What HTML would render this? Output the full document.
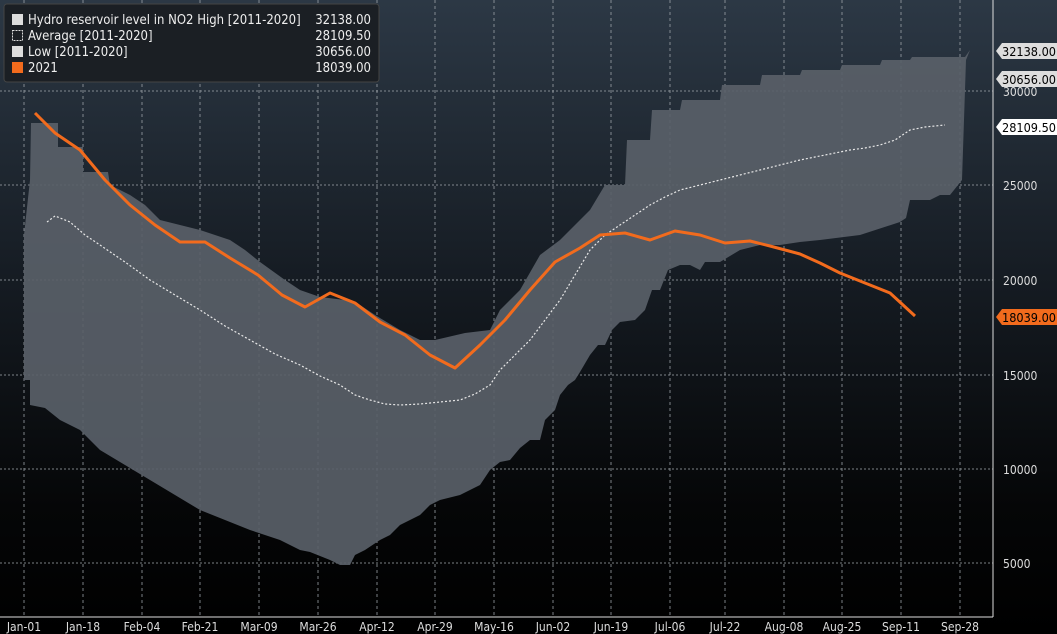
<!DOCTYPE html>
<html><head><style>
body{margin:0;width:1057px;height:634px;overflow:hidden;background:#000;font-family:"DejaVu Sans Condensed","Liberation Sans",sans-serif}
</style></head><body>
<svg width="1057" height="634" xmlns="http://www.w3.org/2000/svg" style="display:block">
<defs><linearGradient id="bg" x1="0" y1="0" x2="0" y2="1">
<stop offset="0" stop-color="#2c3845"/><stop offset="0.45" stop-color="#151b22"/><stop offset="0.8" stop-color="#050607"/><stop offset="1" stop-color="#000"/></linearGradient></defs>
<rect width="1057" height="634" fill="url(#bg)"/>
<g stroke="#9aa0a6" stroke-width="1" stroke-dasharray="3,3" opacity="0.8">
<line x1="24" y1="0" x2="24" y2="617"/><line x1="83" y1="0" x2="83" y2="617"/><line x1="142" y1="0" x2="142" y2="617"/><line x1="200" y1="0" x2="200" y2="617"/><line x1="259" y1="0" x2="259" y2="617"/><line x1="318" y1="0" x2="318" y2="617"/><line x1="377" y1="0" x2="377" y2="617"/><line x1="435" y1="0" x2="435" y2="617"/><line x1="494" y1="0" x2="494" y2="617"/><line x1="553" y1="0" x2="553" y2="617"/><line x1="611" y1="0" x2="611" y2="617"/><line x1="670" y1="0" x2="670" y2="617"/><line x1="725" y1="0" x2="725" y2="617"/><line x1="784" y1="0" x2="784" y2="617"/><line x1="842" y1="0" x2="842" y2="617"/><line x1="901" y1="0" x2="901" y2="617"/><line x1="960" y1="0" x2="960" y2="617"/>
</g>
<g stroke="#9aa0a6" stroke-width="1" stroke-dasharray="2,2" opacity="0.8">
<line x1="0" y1="91" x2="993" y2="91"/><line x1="0" y1="185" x2="993" y2="185"/><line x1="0" y1="280" x2="993" y2="280"/><line x1="0" y1="375" x2="993" y2="375"/><line x1="0" y1="469" x2="993" y2="469"/><line x1="0" y1="563" x2="993" y2="563"/>
</g>
<polygon fill="#596068" opacity="0.92" points="24,235 30,180 31,123 58,123 58,147 83,147 83,172 108,172 110,185 130,195 145,205 160,220 200,230 230,240 245,250 260,262 285,280 300,290 320,297 345,300 360,305 375,315 400,330 420,340 435,340 465,333 490,330 500,310 520,290 540,255 560,240 590,210 605,185 625,185 627,140 650,140 652,110 680,110 682,100 720,100 722,85 760,85 762,75 800,75 802,70 840,70 842,65 880,65 882,60 910,60 912,57 965,57 970,50 966,60 962,180 950,195 940,195 930,200 910,200 906,218 900,222 860,235 820,240 800,242 780,245 760,245 740,250 720,262 705,262 700,270 690,265 680,265 668,270 660,290 652,290 645,310 635,320 620,322 612,330 605,345 598,345 590,355 580,372 575,380 568,385 560,395 555,410 545,420 540,440 530,440 520,448 510,460 500,462 490,470 480,485 470,490 460,495 440,500 430,505 420,515 400,525 390,535 380,540 365,550 355,555 350,565 340,565 330,560 310,552 300,550 280,540 250,530 220,518 200,510 175,495 150,480 125,465 100,450 80,430 60,420 45,408 30,405 30,380 24,380"/>
<polyline fill="none" stroke="#e8e8e8" stroke-width="1.2" stroke-dasharray="2,2" points="47,222 55,216 70,222 85,235 100,245 125,262 150,280 175,295 200,310 225,326 250,340 275,354 300,365 320,376 340,385 355,395 370,400 385,404 400,405 420,404 440,402 460,400 475,394 490,385 500,370 515,355 530,340 545,320 560,300 575,275 590,250 605,235 620,225 635,215 650,205 665,197 680,190 700,185 720,180 740,175 760,170 780,165 800,160 825,155 850,150 865,148 880,145 895,140 910,130 925,127 945,125"/>
<polyline fill="none" stroke="#f26b1d" stroke-width="3" stroke-linejoin="round" points="35,113 55,133 80,150 105,180 130,205 155,225 180,242 205,242 230,258 258,275 282,295 305,307 330,293 355,303 380,322 405,335 430,355 455,368 480,345 505,320 530,290 555,262 580,248 600,235 625,233 650,240 675,231 700,235 725,243 750,241 770,246 800,254 820,263 840,273 865,283 890,293 915,316"/>
<line x1="993" y1="0" x2="993" y2="617" stroke="#ddd"/>
<line x1="0" y1="617" x2="993" y2="617" stroke="#ddd"/>
<g fill="#ddd" font-size="12" font-family="DejaVu Sans Condensed,Liberation Sans Narrow,sans-serif">
<text x="1003" y="96">30000</text><text x="1003" y="190">25000</text><text x="1003" y="285">20000</text><text x="1003" y="380">15000</text><text x="1003" y="474">10000</text><text x="1003" y="568">5000</text>
<g text-anchor="middle"><text x="24" y="631">Jan-01</text><text x="83" y="631">Jan-18</text><text x="142" y="631">Feb-04</text><text x="200" y="631">Feb-21</text><text x="259" y="631">Mar-09</text><text x="318" y="631">Mar-26</text><text x="377" y="631">Apr-12</text><text x="435" y="631">Apr-29</text><text x="494" y="631">May-16</text><text x="553" y="631">Jun-02</text><text x="611" y="631">Jun-19</text><text x="670" y="631">Jul-06</text><text x="725" y="631">Jul-22</text><text x="784" y="631">Aug-08</text><text x="842" y="631">Aug-25</text><text x="901" y="631">Sep-11</text><text x="960" y="631">Sep-28</text></g>
</g>
<g font-size="12" font-family="DejaVu Sans Condensed,Liberation Sans,sans-serif">
<polygon points="996,51 1002,43 1057,43 1057,59 1002,59" fill="#ddd"/><text x="1002" y="56" fill="#000" textLength="54" lengthAdjust="spacingAndGlyphs">32138.00</text>
<polygon points="996,79 1002,71 1057,71 1057,87 1002,87" fill="#ddd"/><text x="1002" y="84" fill="#000" textLength="54" lengthAdjust="spacingAndGlyphs">30656.00</text>
<polygon points="996,127 1002,119 1057,119 1057,135 1002,135" fill="#fff"/><text x="1002" y="132" fill="#000" textLength="54" lengthAdjust="spacingAndGlyphs">28109.50</text>
<polygon points="996,317 1002,309 1057,309 1057,325 1002,325" fill="#f26b1d"/><text x="1002" y="322" fill="#000" textLength="54" lengthAdjust="spacingAndGlyphs">18039.00</text>
</g>
<rect x="4" y="4" width="375" height="78" rx="3" fill="#1b1f24" stroke="#444"/>
<rect x="12" y="14" width="11" height="11" fill="#ddd"/>
<rect x="12.5" y="30.5" width="10" height="10" fill="none" stroke="#ddd" stroke-dasharray="2,1"/>
<rect x="12" y="46" width="11" height="11" fill="#ddd"/>
<rect x="12" y="62" width="11" height="11" fill="#f26b1d"/>
<g fill="#eee" font-size="13" font-family="DejaVu Sans Condensed,Liberation Sans,sans-serif">
<text x="28" y="24">Hydro reservoir level in NO2 High [2011-2020]</text><text x="28" y="40">Average  [2011-2020]</text><text x="28" y="56">Low  [2011-2020]</text><text x="28" y="72">2021</text>
<g text-anchor="end"><text x="371" y="24">32138.00</text><text x="371" y="40">28109.50</text><text x="371" y="56">30656.00</text><text x="371" y="72">18039.00</text></g>
</g>
</svg>
</body></html>
